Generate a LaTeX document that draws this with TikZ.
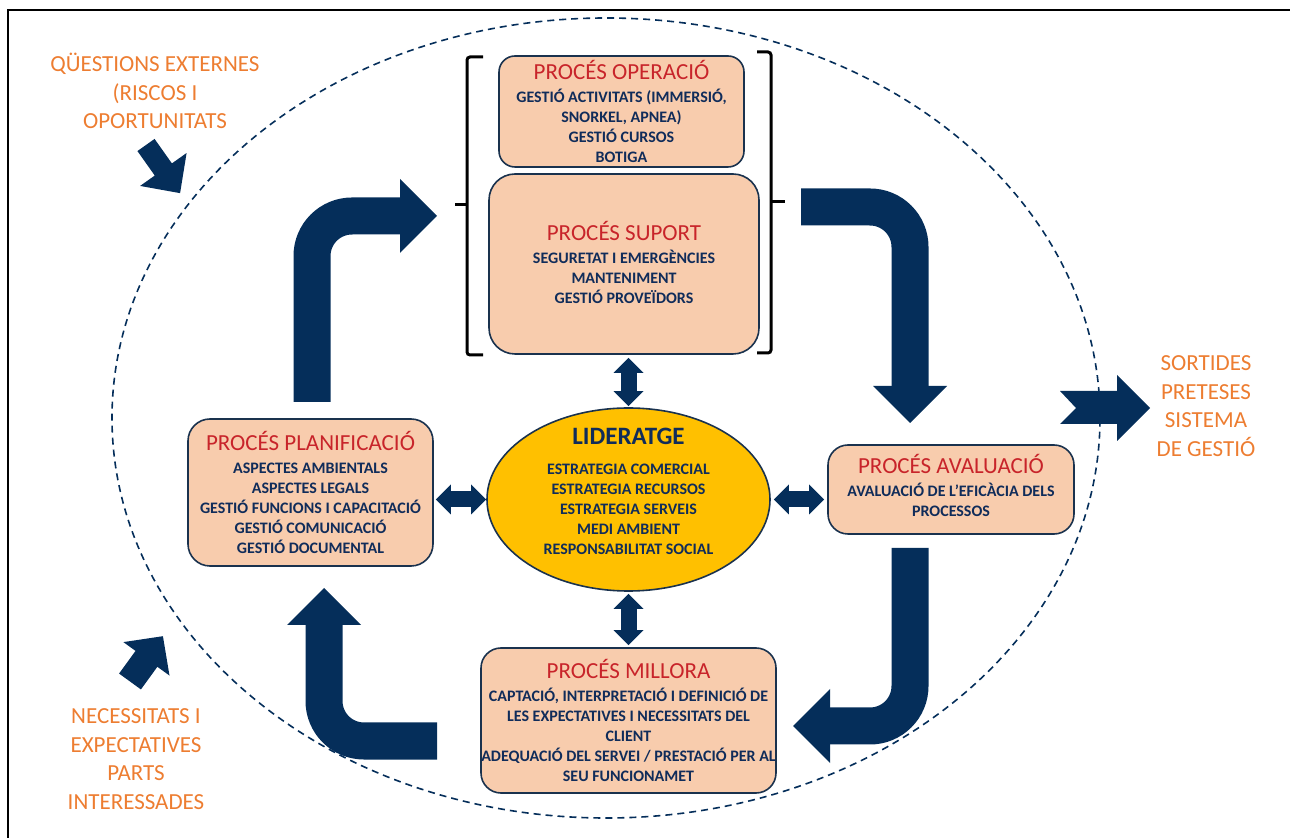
\documentclass[tikz,border=0pt]{standalone}
\usepackage{fontspec}
\setmainfont{Carlito}
\usetikzlibrary{positioning,shapes.geometric,arrows.meta}

\definecolor{navy}{RGB}{5,46,90}
\definecolor{txtnavy}{RGB}{16,44,90}
\definecolor{ttlred}{RGB}{200,36,42}
\definecolor{orng}{RGB}{237,125,49}
\definecolor{peach}{RGB}{248,204,173}
\definecolor{gold}{RGB}{255,192,0}
\definecolor{edge}{RGB}{26,50,78}

\newcommand{\ttl}[1]{{\normalfont\fontsize{11.5}{10}\selectfont\color{ttlred}#1}}

\begin{document}
\begin{tikzpicture}[%
        x=0.5pt, y=-0.5pt,
        procbox/.style={%
          rectangle,
          draw=edge, line width=0.8pt,
          fill=peach,
          inner sep=0pt,
          align=center,
          text=txtnavy,
          font=\fontsize{8}{10}\selectfont\bfseries
        },
        outtxt/.style={text=orng, align=center, font=\fontsize{11.5}{14.25}\selectfont},
        bigarrow/.style={draw=navy, line width=18.5pt, rounded corners=20pt,
          -{Triangle[length=18.5pt,width=37pt,line width=0pt]}},
        dblarrow/.style={draw=navy, line width=8pt,
          {Triangle[length=7.5pt,width=15pt,line width=0pt]}-{Triangle[length=7.5pt,width=15pt,line width=0pt]}},
        brack/.style={draw=black, line width=1.5pt, rounded corners=1.5pt}
      ]
      \useasboundingbox (0,0) rectangle (1290,838);
      \clip (0,0) rectangle (1290,838);

      % frame and system border
      \draw[line width=1pt] (7.5,850) -- (7.5,10) -- (1300,10);
      \draw[navy, line width=0.8pt, dash pattern=on 3.5pt off 2.5pt]
        (606,418) ellipse [x radius=247pt, y radius=200pt];

      % processes
      \node[procbox, minimum width=122.5pt, minimum height=55.5pt, rounded corners=8pt] (oper) at (621.5,111.5)
        {\ttl{PROCÉS OPERACIÓ}\\[1.5pt] GESTIÓ ACTIVITATS (IMMERSIÓ,\\ SNORKEL, APNEA)\\ GESTIÓ CURSOS\\ BOTIGA};
      \node[procbox, minimum width=135pt, minimum height=90pt, rounded corners=13pt, text depth=1.5pt] (suport) at (624,264)
        {\ttl{PROCÉS SUPORT}\\[1.5pt] SEGURETAT I EMERGÈNCIES\\ MANTENIMENT\\ GESTIÓ PROVEÏDORS};
      \node[procbox, minimum width=122.5pt, minimum height=73.5pt, rounded corners=11pt] (plan) at (310.5,492.5)
        {\ttl{PROCÉS PLANIFICACIÓ}\\[1.5pt] ASPECTES AMBIENTALS\\ ASPECTES LEGALS\\ GESTIÓ FUNCIONS I CAPACITACIÓ\\ GESTIÓ COMUNICACIÓ\\ GESTIÓ DOCUMENTAL};
      \node[procbox, minimum width=123pt, minimum height=44.5pt, rounded corners=10pt, text depth=4.5pt] (aval) at (951,489.5)
        {\ttl{PROCÉS AVALUACIÓ}\\[1.5pt] AVALUACIÓ DE L'EFICÀCIA DELS\\ PROCESSOS};
      \node[procbox, minimum width=147.5pt, minimum height=72.5pt, rounded corners=10pt] (millora) at (628.5,720.5)
        {\ttl{PROCÉS MILLORA}\\[1.5pt] CAPTACIÓ, INTERPRETACIÓ I DEFINICIÓ DE\\ LES EXPECTATIVES I NECESSITATS DEL\\ CLIENT\\ ADEQUACIÓ DEL SERVEI / PRESTACIÓ PER AL\\ SEU FUNCIONAMET};

      \node[ellipse, draw=edge, line width=0.8pt, fill=gold, inner sep=0pt,
        minimum width=141.5pt, minimum height=91.5pt] (lider) at (628.5,499.5) {};
      \node[text=txtnavy, align=center, font=\fontsize{8}{10}\selectfont\bfseries] (lidertxt) at ([yshift=4pt]lider.center)
        {{\fontsize{12.5}{10}\selectfont LIDERATGE}\\[5pt] ESTRATEGIA COMERCIAL\\ ESTRATEGIA RECURSOS\\ ESTRATEGIA SERVEIS\\ MEDI AMBIENT\\ RESPONSABILITAT SOCIAL};

      % bracket round operacio + suport
      \draw[brack] (483,57) -- (467,57) -- (467,355) -- (483,355);
      \draw[brack] (467,205) -- (455,205);
      \draw[brack] (757,52) -- (771,52) -- (771,353) -- (757,353);
      \draw[brack] (771,202) -- (785,202);

      % links with lideratge
      \draw[dblarrow, shorten <=1.5pt, shorten >=0.5pt] (lider.north |- suport.south) -- (lider.north);
      \draw[dblarrow, shorten <=1pt, shorten >=1pt] (lider.south) -- (lider.south |- millora.north);
      \draw[dblarrow, shorten <=1pt] (plan.east |- lider.west) -- (lider.west);
      \draw[dblarrow, shorten <=1.5pt, shorten >=1.5pt] (lider.east) -- (lider.east -| aval.west);

      % cycle arrows
      \coordinate (c1s) at (312,402);  \coordinate (c1e) at (437,216);
      \coordinate (c2s) at (801,207);  \coordinate (c2e) at (910,423);
      \coordinate (c3s) at (910,548);  \coordinate (c3e) at (793,726);
      \coordinate (c4s) at (437,741);  \coordinate (c4e) at (324,588);
      \draw[bigarrow] (c1s) |- (c1e);
      \draw[bigarrow] (c2s) -| (c2e);
      \draw[bigarrow] (c3s) |- (c3e);
      \draw[bigarrow] (c4s) -| (c4e);

      % inputs and outputs
      \node[outtxt] (extq) at (155,91) {QÜESTIONS EXTERNES\\ (RISCOS I\\ OPORTUNITATS};
      \node[outtxt] (needs) at (136,759) {NECESSITATS I\\ EXPECTATIVES\\ PARTS\\ INTERESSADES};
      \node[outtxt] (outs) at (1206,406) {SORTIDES\\ PRETESES\\ SISTEMA\\ DE GESTIÓ};

      \begin{scope}[shift={(146,145)}, rotate=-54.7]
        \fill[navy] (0,-10.5) -- (30,-10.5) -- (30,-28.5) -- (59,0) -- (30,28.5) -- (30,10.5) -- (0,10.5) -- cycle;
      \end{scope}
      \begin{scope}[shift={(130,681.5)}, rotate=54]
        \fill[navy] (0,-13.5) -- (28,-13.5) -- (28,-28.5) -- (56,0) -- (28,28.5) -- (28,13.5) -- (0,13.5) -- cycle;
      \end{scope}
      \fill[navy] (1060,391) -- (1117,391) -- (1117,375) -- (1150,408) -- (1117,441) -- (1117,424)
        -- (1060,424) -- (1076,408) -- cycle;
    \end{tikzpicture}
\end{document}
